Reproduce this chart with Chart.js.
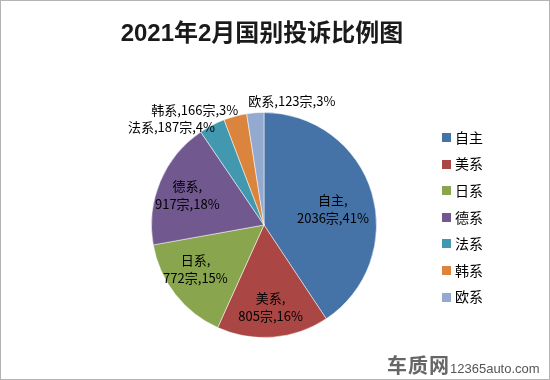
<!DOCTYPE html>
<html><head><meta charset="utf-8">
<script src="https://cdn.jsdelivr.net/npm/chart.js@4/dist/chart.umd.min.js"></script>
<style>
html,body{margin:0;padding:0;background:#fff;}
#wrap{position:relative;width:550px;height:380px;box-sizing:border-box;border:1px solid #b4b4b4;background:#fff;overflow:hidden;}
#c{position:absolute;left:0;top:0;}
#wm{position:absolute;left:386px;top:349px;white-space:nowrap;}
#wm .b{font:bold 20px "Noto Sans CJK SC",sans-serif;letter-spacing:1px;color:#666;}
#wm .s{font:13px "Liberation Sans",Arial,sans-serif;color:#555;margin-left:0px;}
</style></head>
<body>
<div id="wrap"><canvas id="c" width="548" height="378"></canvas>
<div id="wm"><span class="b">车质网</span><span class="s">12365auto.com</span></div></div>
<script>
const categories = ['自主','美系','日系','德系','法系','韩系','欧系'];
const complaints = [2036, 805, 772, 917, 187, 166, 123];
const percentLabels = [41, 16, 15, 18, 4, 3, 3];
const colors = ['#4572A7','#AA4643','#89A54E','#71588F','#4198AF','#DB843D','#93A9CF'];
const titleText = '2021年2月国别投诉比例图';

const CJK = '"Noto Sans CJK SC", sans-serif';

// label placement: inside (two lines) or outside (one line) relative to slice
const placement = [
  {mode:'in', f:0.64, dx:0, dy:5},
  {mode:'in', f:0.73, dx:0, dy:0},
  {mode:'in', f:0.75, dx:-2, dy:-8},
  {mode:'in', f:0.73, dx:-1, dy:2},
  {mode:'out', dx:3, dy:2, align:'right'},
  {mode:'out', dx:3, dy:-6, align:'right'},
  {mode:'out', dx:-7, dy:-12, align:'left'}
];

const titlePlugin = {
  id:'bigTitle',
  afterDraw(chart){
    const ctx = chart.ctx;
    ctx.save();
    ctx.font = 'bold 24px "Liberation Sans", "Noto Sans CJK SC", sans-serif';
    ctx.fillStyle = '#1a1a1a';
    ctx.textAlign = 'center';
    ctx.textBaseline = 'middle';
    ctx.fillText(titleText, 261, 33);
    ctx.restore();
  }
};

const labelPlugin = {
  id:'sliceLabels',
  afterDatasetsDraw(chart){
    const ctx = chart.ctx;
    const meta = chart.getDatasetMeta(0);
    ctx.save();
    ctx.font = '13px ' + CJK;
    ctx.fillStyle = '#000';
    ctx.textBaseline = 'middle';
    meta.data.forEach((arc, i) => {
      const p = arc.getProps(['x','y','startAngle','endAngle','outerRadius'], true);
      const mid = (p.startAngle + p.endAngle) / 2;
      const pl = placement[i];
      const name = chart.data.labels[i];
      const val = chart.data.datasets[0].data[i];
      if (pl.mode === 'in') {
        const r = p.outerRadius * pl.f;
        const x = p.x + Math.cos(mid) * r + pl.dx;
        const y = p.y + Math.sin(mid) * r + pl.dy;
        ctx.textAlign = 'center';
        ctx.fillText(name + ',', x, y - 9);
        ctx.fillText(val + '宗,' + percentLabels[i] + '%', x, y + 9);
      } else {
        const r = p.outerRadius;
        const x = p.x + Math.cos(mid) * r + pl.dx;
        const y = p.y + Math.sin(mid) * r + pl.dy;
        ctx.textAlign = pl.align;
        ctx.fillText(name + ',' + val + '宗,' + percentLabels[i] + '%', x, y);
      }
    });
    ctx.restore();
  }
};

const legendPlugin = {
  id:'sideLegend',
  afterDraw(chart){
    const ctx = chart.ctx;
    const ds = chart.data.datasets[0];
    ctx.save();
    ctx.font = '14px ' + CJK;
    ctx.textBaseline = 'middle';
    ctx.textAlign = 'left';
    chart.data.labels.forEach((lab, i) => {
      const cy = 136.5 + i * 26.6;
      ctx.fillStyle = ds.backgroundColor[i];
      ctx.fillRect(441, Math.round(cy - 4.5), 9, 9);
      ctx.fillStyle = '#000';
      ctx.fillText(lab, 454, cy);
    });
    ctx.restore();
  }
};

new Chart(document.getElementById('c'), {
  type:'pie',
  data:{
    labels: categories,
    datasets:[{
      data: complaints,
      backgroundColor: colors,
      borderColor:'rgba(255,255,255,0.5)',
      borderWidth:1,
      hoverOffset:0
    }]
  },
  options:{
    responsive:false,
    animation:false,
    events:[],
    layout:{padding:{left:150, right:172, top:111, bottom:41}},
    plugins:{
      legend:{display:false},
      tooltip:{enabled:false},
      title:{display:false}
    }
  },
  plugins:[labelPlugin, legendPlugin, titlePlugin]
});
</script>
</body></html>
